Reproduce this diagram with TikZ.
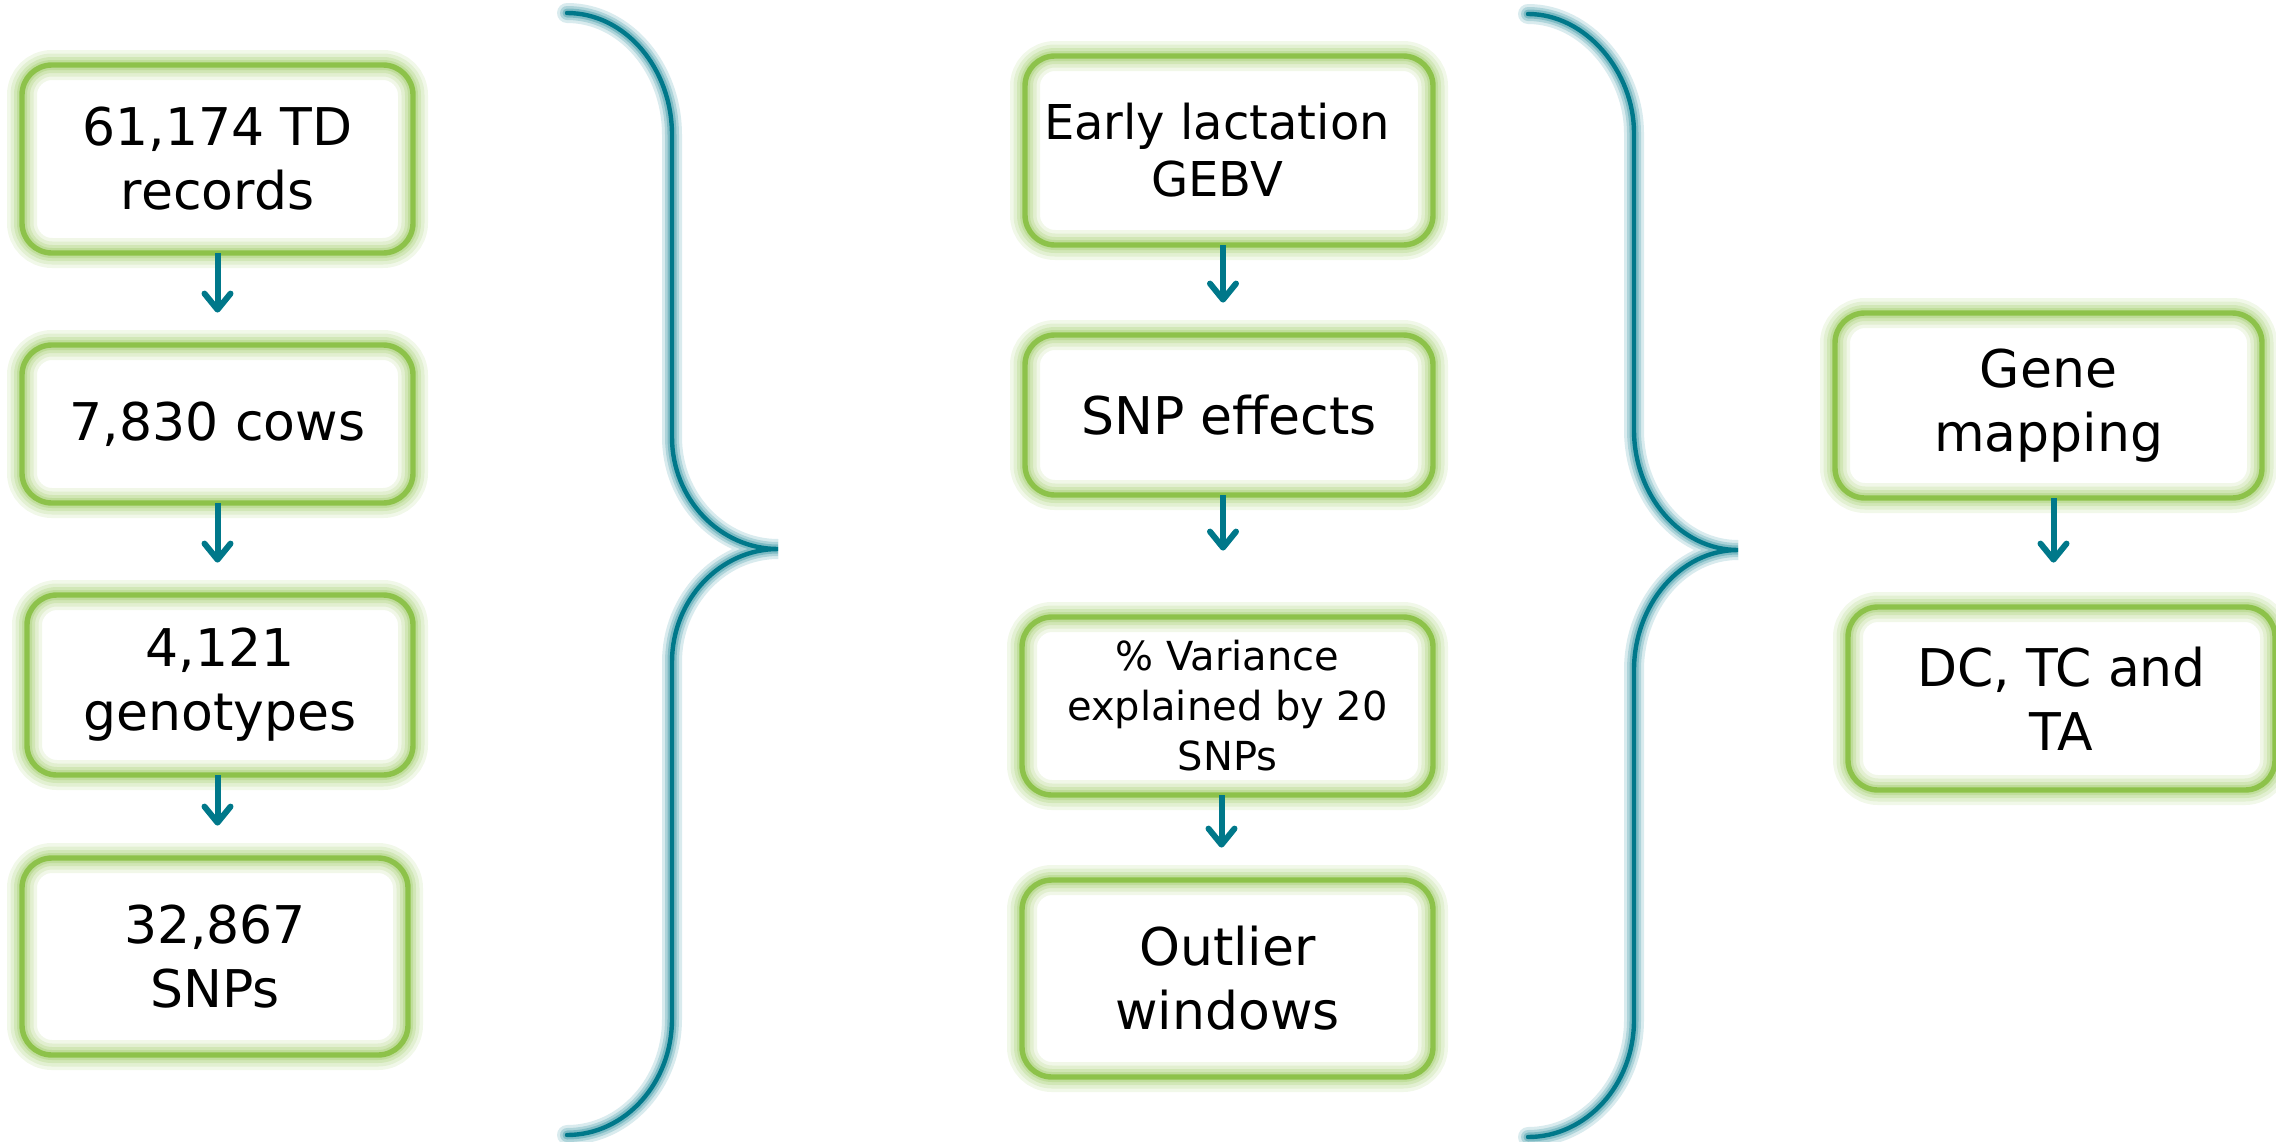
\documentclass[tikz,border=0pt]{standalone}
\usepackage{fontspec}
\setmainfont{DejaVu Sans}
\usetikzlibrary{arrows.meta}
\definecolor{boxgreen}{RGB}{141,194,74}
\definecolor{tealc}{RGB}{0,120,138}
\begin{document}
\begin{tikzpicture}[x=0.5pt,y=-0.5pt,
  box/.style={rectangle, rounded corners=15pt, fill=white, inner sep=0pt, align=center,
    postaction={draw=boxgreen, draw opacity=0.12, line width=15pt},
    postaction={draw=boxgreen, draw opacity=0.15, line width=11.5pt},
    postaction={draw=boxgreen, draw opacity=0.2, line width=8pt},
    postaction={draw=boxgreen, draw opacity=0.25, line width=5pt},
    postaction={draw=boxgreen, line width=2.7pt}},
  big/.style={font=\fontsize{26}{32}\selectfont},
  low/.style={execute at begin node={\rule{0pt}{25pt}}},
  arr/.style={draw=tealc, line width=3pt, -{Straight Barb[length=8pt,width=13pt,round]}, shorten >=16pt},
  brace/.style={draw=tealc, line width=2.2pt, line cap=round,
    preaction={draw=tealc, draw opacity=0.15, line width=10pt, line cap=round},
    preaction={draw=tealc, draw opacity=0.2, line width=7pt, line cap=round},
    preaction={draw=tealc, draw opacity=0.28, line width=4.5pt, line cap=round}}]
\useasboundingbox (0,0) rectangle (2276,1141);

% left column
\node[box, big, low, minimum width=195.5pt, minimum height=94pt] (L1) at (217.5,159) {61,174 TD\\records};
\node[box, big, minimum width=195.5pt, minimum height=79pt] (L2) at (217.5,424) {7,830 cows};
\node[box, big, low, minimum width=193pt, minimum height=90pt] (L3) at (220,685) {4,121\\genotypes};
\node[box, big, low, minimum width=193pt, minimum height=98.5pt] (L4) at (215,956.5) {32,867\\SNPs};

% middle column
\node[box, minimum width=204pt, minimum height=94.5pt] (M1) at (1229,150.5) {};
\node[font=\fontsize{24}{28.5}\selectfont, align=center] (M1t) at ([xshift=-6pt]M1.center) {Early lactation\\GEBV};
\node[box, big, minimum width=204pt, minimum height=80pt] (M2) at (1229,415) {SNP effects};
\node[box, font=\fontsize{20}{25}\selectfont, minimum width=205.5pt, minimum height=89pt] (M3) at (1227.5,706) {\% Variance\\explained by 20\\SNPs};
\node[box, big, minimum width=205.5pt, minimum height=98.5pt] (M4) at (1227.5,978.5) {Outlier\\windows};

% right column
\node[box, big, low, minimum width=213.5pt, minimum height=92.5pt] (R1) at (2048.5,405.5) {Gene\\mapping};
\node[box, big, minimum width=213.5pt, minimum height=91.5pt] (R2) at (2061.5,698.5) {DC, TC and\\TA};

% arrows
\draw[arr] (L1.south) -- (L1.south |- L2.north);
\draw[arr] (L2.south) -- (L2.south |- L3.north);
\draw[arr] (L3.south -| L2.south) -- (L2.south |- L4.north);
\coordinate (m1s) at ([xshift=-3pt]M1.south);
\coordinate (m2s) at ([xshift=-3pt]M2.south);
\coordinate (m3s) at ([xshift=-3pt]M3.south);
\draw[arr] (m1s) -- (m1s |- M2.north);
\draw[arr, shorten >=33pt] (m2s) -- (m2s |- M3.north);
\draw[arr] (m3s) -- (m3s |- M4.north);
\coordinate (r1s) at ([xshift=2.5pt]R1.south);
\draw[arr, shorten >=22pt] (r1s) -- (r1s |- R2.north);

% braces
\draw[brace] (567,13) .. controls (625,13) and (672,68) .. (672,135) -- (672,437)
  .. controls (672,499) and (720,549) .. (778,549)
  .. controls (720,549) and (672,600) .. (672,662) -- (672,1019)
  .. controls (672,1083) and (625,1135) .. (567,1135);
\draw[brace] (1528,14) .. controls (1586,14) and (1634,72) .. (1634,133) -- (1634,430)
  .. controls (1634,495) and (1680,550) .. (1738,550)
  .. controls (1680,550) and (1634,605) .. (1634,670) -- (1634,1020)
  .. controls (1634,1085) and (1586,1137) .. (1528,1137);
\end{tikzpicture}
\end{document}
